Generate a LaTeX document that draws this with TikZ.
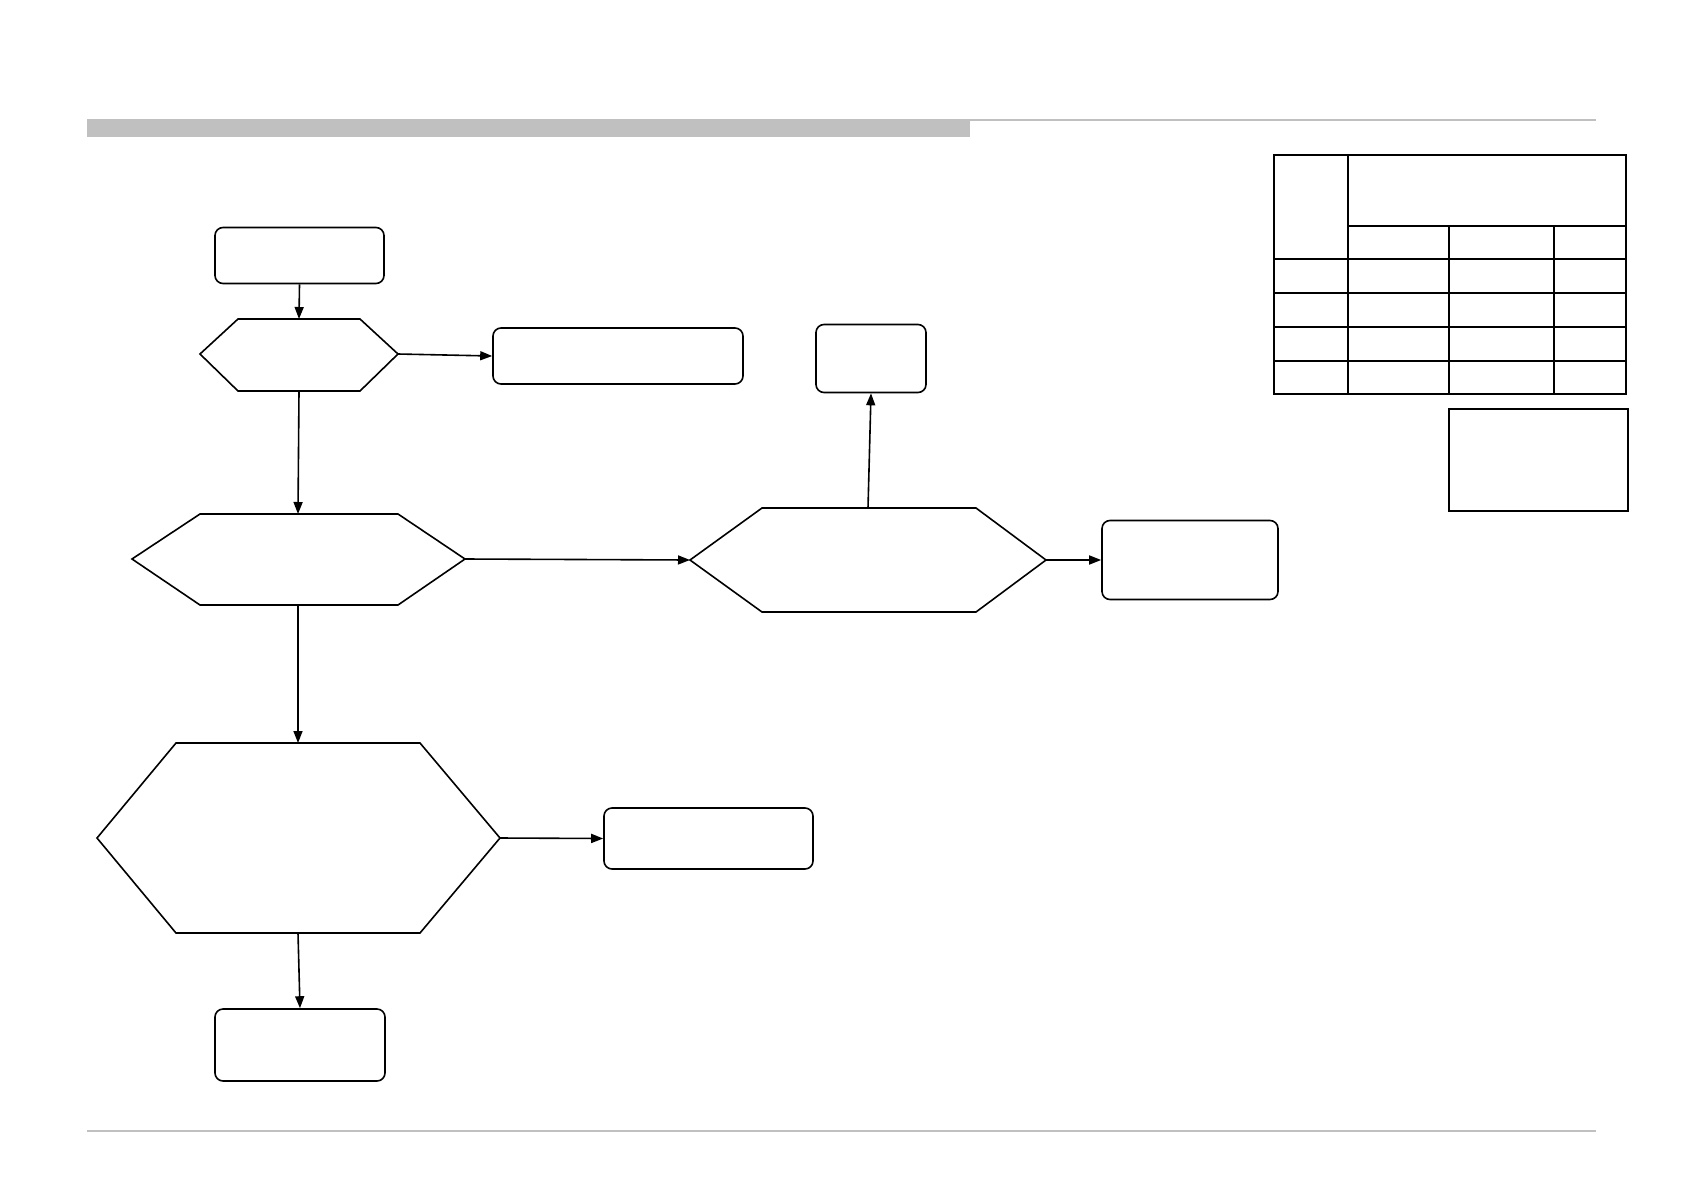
\documentclass[tikz,border=0pt]{standalone}
\usetikzlibrary{arrows.meta}
\definecolor{bargray}{RGB}{192,192,192}
\tikzset{
  rbox/.style={draw=black, line width=1.6pt, rounded corners=8pt, inner sep=0pt, fill=white},
  hexline/.style={draw=black, line width=1.6pt, line join=miter},
  arr/.style={draw=black, line width=1.6pt, -{Triangle[length=12pt,width=9pt]}},
  tabline/.style={draw=black, line width=2.4pt},
}
\begin{document}
\begin{tikzpicture}[x=1pt,y=-1pt]
\useasboundingbox (0,0) rectangle (1683,1191);
% header / footer rules
\fill[bargray] (87,119) rectangle (970,137);
\fill[bargray] (970,119) rectangle (1596,121);
\fill[bargray] (87,1130) rectangle (1596,1132);

% boxes
\node[rbox, minimum width=169pt, minimum height=56pt] (start) at (299.5,255.5) {};
\node[rbox, minimum width=250pt, minimum height=56pt] (b1) at (618,356) {};
\node[rbox, minimum width=110pt, minimum height=68pt] (b2) at (871,358.5) {};
\node[rbox, minimum width=176pt, minimum height=79pt] (b3) at (1190,560) {};
\node[rbox, minimum width=209pt, minimum height=61pt] (b4) at (708.5,838.5) {};
\node[rbox, minimum width=170pt, minimum height=72pt] (b5) at (300,1045) {};

% hexagons
\draw[hexline] (200,354) -- (238,319) -- (360,319) -- (398,354) -- (360,391) -- (238,391) -- cycle;
\coordinate (h1t) at (299,319);
\coordinate (h1b) at (299,391);
\coordinate (h1r) at (398,354);

\draw[hexline] (132,559) -- (200,514) -- (398,514) -- (465,559) -- (398,605) -- (200,605) -- cycle;
\coordinate (h2t) at (298,514);
\coordinate (h2b) at (298,605);
\coordinate (h2r) at (465,559);

\draw[hexline] (690,560) -- (762,508) -- (976,508) -- (1046,560) -- (976,612) -- (762,612) -- cycle;
\coordinate (h3t) at (868,508);
\coordinate (h3l) at (690,560);
\coordinate (h3r) at (1046,560);

\draw[hexline] (97,838) -- (176,743) -- (420,743) -- (500,838) -- (420,933) -- (176,933) -- cycle;
\coordinate (h4t) at (298,743);
\coordinate (h4b) at (298,933);
\coordinate (h4r) at (500,838);

% connectors
\draw[arr] (start.south) -- (h1t);
\draw[arr] (h1r) -- (b1.west);
\draw[arr] (h1b) -- (h2t);
\draw[arr] (h2r) -- (h3l);
\draw[arr] (h3t) -- (b2.south);
\draw[arr] (h3r) -- (b3.west);
\draw[arr] (h2b) -- (h4t);
\draw[arr] (h4r) -- (b4.west);
\draw[arr] (h4b) -- (b5.north);

% table
\draw[tabline] (1274,155) rectangle (1626,394);
\draw[tabline] (1348,155) -- (1348,394);
\draw[tabline] (1449,226) -- (1449,394);
\draw[tabline] (1554,226) -- (1554,394);
\draw[tabline] (1348,226) -- (1626,226);
\draw[tabline] (1274,259) -- (1626,259);
\draw[tabline] (1274,293) -- (1626,293);
\draw[tabline] (1274,327) -- (1626,327);
\draw[tabline] (1274,361) -- (1626,361);
\draw[tabline] (1449,409) rectangle (1628,511);
\end{tikzpicture}
\end{document}
